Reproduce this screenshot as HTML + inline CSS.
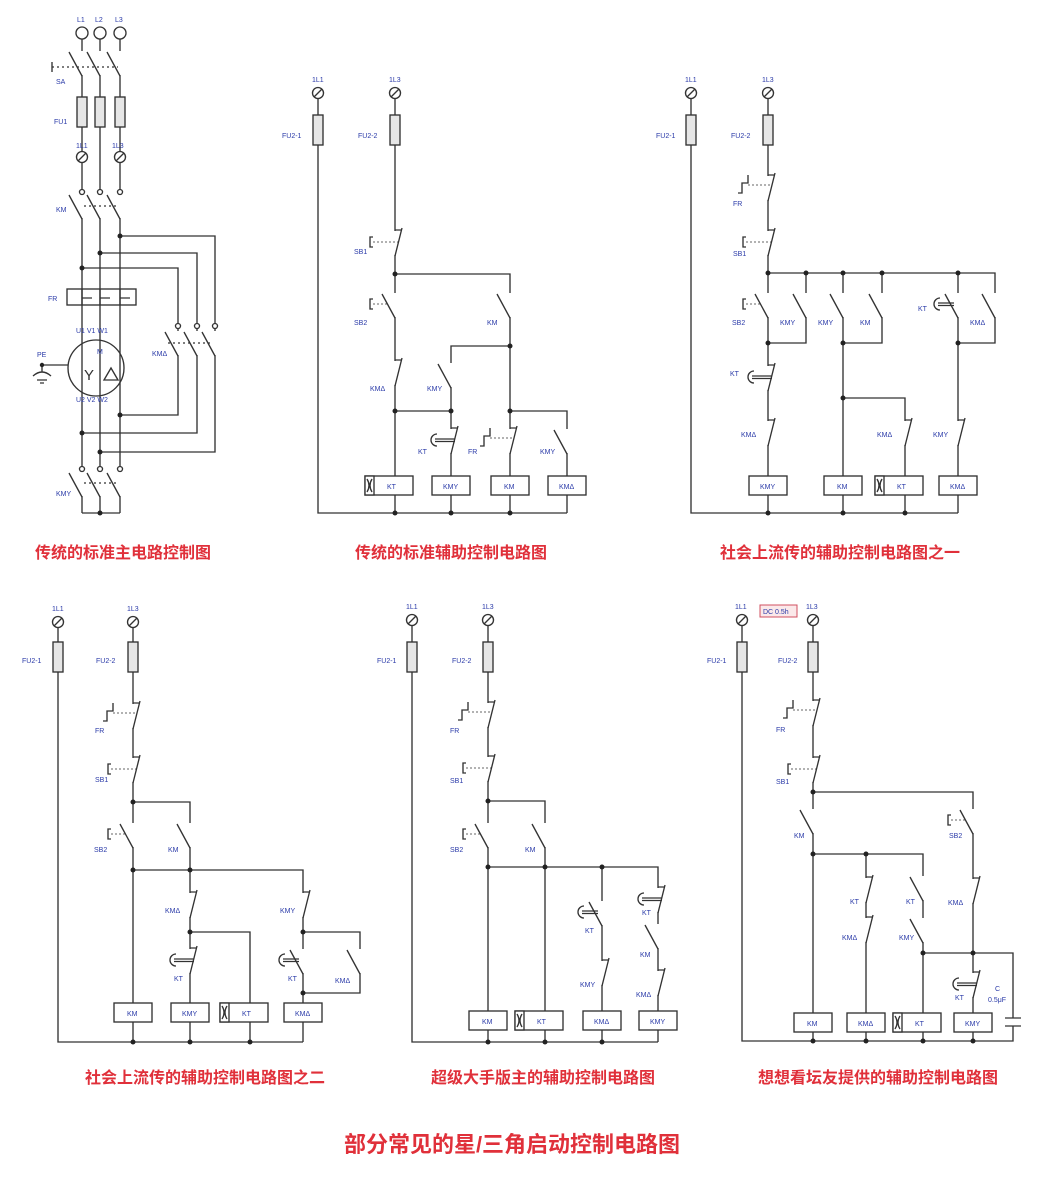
<!DOCTYPE html>
<html><head><meta charset="utf-8"><style>
html,body{margin:0;padding:0;background:#fff}
svg{display:block}
.w{fill:none;stroke:#333;stroke-width:1.35}
.l{font-family:"Liberation Sans",sans-serif;font-size:7px;fill:#2a3aa8}
.c{font-family:"Liberation Sans","Noto Sans CJK SC",sans-serif;font-weight:bold;fill:#e0303a;text-anchor:middle}
</style></head><body>
<svg width="1044" height="1178" viewBox="0 0 1044 1178" xmlns="http://www.w3.org/2000/svg">
<defs>
<g id="no" class="w"><rect x="-2" y="1" width="4" height="24" fill="#fff" stroke="none"/><path d="M-13,2 L0,26"/></g>
<g id="nc" class="w"><rect x="-2" y="1" width="4" height="24" fill="#fff" stroke="none"/><path d="M0,0 H6 M0,26 L7,-2"/></g>
<g id="pb" class="w"><path d="M-22,7 h-3 v10 h3"/><path d="M-22,12 H-6" stroke-dasharray="2,2" stroke-width="0.8"/></g>
<g id="pbc" class="w"><path d="M-22,7 h-3 v10 h3"/><path d="M-22,12 H3" stroke-dasharray="2,2" stroke-width="0.8"/></g>
<g id="th" class="w"><path d="M-20,0 v8 h-6 v10 h-4"/><path d="M-20,10 H3" stroke-dasharray="2,2" stroke-width="0.8"/></g>
<g id="tm" class="w"><path d="M-18,6 a6,6 0 0 0 0,12"/><path d="M-20,11 H-4 M-20,13.5 H-4"/></g>
<g id="tmc" class="w"><path d="M-14,6 a6,6 0 0 0 0,12"/><path d="M-16,11 H4 M-16,13.5 H4"/></g>
<g id="coil" class="w"><rect x="-19" y="0" width="38" height="19" fill="#fff"/></g>
<g id="kt" class="w"><rect x="-30" y="0" width="48" height="19" fill="#fff"/><rect x="-30" y="0" width="9" height="19" fill="#fff"/><path d="M-28,3 q4,6.5 0,13 M-23,3 q-4,6.5 0,13"/></g>
<g id="fu" class="w"><rect x="-5" y="0" width="10" height="30" fill="#e6e6e6"/></g>
<g id="tr" class="w"><circle cx="0" cy="0" r="5.5" fill="#fff"/><path d="M-4,4 L4,-4"/></g>
<g id="to" class="w"><circle cx="0" cy="0" r="6" fill="#fff"/></g>
</defs>

<!-- Diagram 1 -->
<path class="w" d="M82,39 V513 M100,39 V513 M120,39 V513 M82,513 H120"/>
<path class="w" d="M120,236 H215 V452 H100 M100,253 H197 V433 H82 M82,268 H178 V415 H120"/>
<use href="#to" x="82" y="33"/><use href="#to" x="100" y="33"/><use href="#to" x="120" y="33"/>
<text class="l" x="77" y="22">L1</text><text class="l" x="95" y="22">L2</text><text class="l" x="115" y="22">L3</text>
<use href="#no" x="82" y="50"/><use href="#no" x="100" y="50"/><use href="#no" x="120" y="50"/>
<path class="w" d="M52,62 V72"/><path class="w" d="M52,67 H118" stroke-dasharray="2,3" stroke-width="0.8"/>
<text class="l" x="56" y="84">SA</text>
<use href="#fu" x="82" y="97"/><use href="#fu" x="100" y="97"/><use href="#fu" x="120" y="97"/>
<text class="l" x="54" y="124">FU1</text>
<use href="#tr" x="82" y="157"/><use href="#tr" x="120" y="157"/>
<text class="l" x="76" y="148">1L1</text><text class="l" x="112" y="148">1L3</text>
<use href="#no" x="82" y="193"/><use href="#no" x="100" y="193"/><use href="#no" x="120" y="193"/>
<g class="w"><circle cx="82" cy="192" r="2.5" fill="#fff"/><circle cx="100" cy="192" r="2.5" fill="#fff"/><circle cx="120" cy="192" r="2.5" fill="#fff"/></g>
<path class="w" d="M84,206 H118" stroke-dasharray="2,3" stroke-width="0.8"/>
<text class="l" x="56" y="212">KM</text>
<rect class="w" x="67" y="289" width="69" height="16" fill="#fff"/>
<path class="w" d="M82,289 V298 H92 M100,289 V298 H110 M120,289 V298 H130 M82,305 V298 M100,305 V298 M120,305 V298"/>
<text class="l" x="48" y="301">FR</text>
<text class="l" x="76" y="333">U1 V1 W1</text>
<path class="w" d="M68,365 H42 M42,365 V372 M33,376 q9,-8 18,0 M37,380 H47 M40,383 H44"/>
<circle cx="42" cy="365" r="2.2" fill="#222"/>
<text class="l" x="37" y="357">PE</text>
<circle class="w" cx="96" cy="368" r="28" fill="#fff"/>
<text class="l" x="97" y="354">M</text>
<text x="84" y="380" font-family="Liberation Sans" font-size="15" fill="#333">Y</text>
<path class="w" d="M104,380 L111,368 L118,380 Z"/>
<text class="l" x="76" y="402">U2 V2 W2</text>
<use href="#no" x="178" y="330"/><use href="#no" x="197" y="330"/><use href="#no" x="215" y="330"/>
<g class="w"><circle cx="178" cy="326" r="2.5" fill="#fff"/><circle cx="197" cy="326" r="2.5" fill="#fff"/><circle cx="215" cy="326" r="2.5" fill="#fff"/></g>
<path class="w" d="M168,343 H212" stroke-dasharray="2,3" stroke-width="0.8"/>
<text class="l" x="152" y="356">KMΔ</text>
<use href="#no" x="82" y="471"/><use href="#no" x="100" y="471"/><use href="#no" x="120" y="471"/>
<g class="w"><circle cx="82" cy="469" r="2.5" fill="#fff"/><circle cx="100" cy="469" r="2.5" fill="#fff"/><circle cx="120" cy="469" r="2.5" fill="#fff"/></g>
<path class="w" d="M84,483 H118" stroke-dasharray="2,3" stroke-width="0.8"/>
<text class="l" x="56" y="496">KMY</text>
<g fill="#222"><circle cx="120" cy="236" r="2.5"/><circle cx="100" cy="253" r="2.5"/><circle cx="82" cy="268" r="2.5"/><circle cx="120" cy="415" r="2.5"/><circle cx="82" cy="433" r="2.5"/><circle cx="100" cy="452" r="2.5"/><circle cx="100" cy="513" r="2.5"/></g>

<!-- Diagram 2 -->
<path class="w" d="M318,99 V513 H567 M395,99 V513 M395,274 H510 V513 M510,346 H451 V513 M395,411 H451 M510,411 H567 V513"/>
<use href="#tr" x="318" y="93"/><use href="#tr" x="395" y="93"/>
<text class="l" x="312" y="82">1L1</text><text class="l" x="389" y="82">1L3</text>
<use href="#fu" x="318" y="115"/><use href="#fu" x="395" y="115"/>
<text class="l" x="282" y="138">FU2-1</text><text class="l" x="358" y="138">FU2-2</text>
<use href="#nc" x="395" y="230"/><use href="#pbc" x="395" y="230"/><text class="l" x="354" y="254">SB1</text>
<use href="#no" x="395" y="292"/><use href="#pb" x="395" y="292"/><text class="l" x="354" y="325">SB2</text>
<use href="#no" x="510" y="292"/><text class="l" x="487" y="325">KM</text>
<use href="#nc" x="395" y="360"/><text class="l" x="370" y="391">KMΔ</text>
<use href="#no" x="451" y="362"/><text class="l" x="427" y="391">KMY</text>
<use href="#nc" x="451" y="428"/><use href="#tmc" x="451" y="428"/><text class="l" x="418" y="454">KT</text>
<use href="#nc" x="510" y="428"/><use href="#th" x="510" y="428"/><text class="l" x="468" y="454">FR</text>
<use href="#no" x="567" y="428"/><text class="l" x="540" y="454">KMY</text>
<use href="#kt" x="395" y="476"/><text class="l" x="387" y="489">KT</text>
<use href="#coil" x="451" y="476"/><text class="l" x="443" y="489">KMY</text>
<use href="#coil" x="510" y="476"/><text class="l" x="504" y="489">KM</text>
<use href="#coil" x="567" y="476"/><text class="l" x="559" y="489">KMΔ</text>
<g fill="#222"><circle cx="395" cy="274" r="2.5"/><circle cx="510" cy="346" r="2.5"/><circle cx="395" cy="411" r="2.5"/><circle cx="451" cy="411" r="2.5"/><circle cx="510" cy="411" r="2.5"/><circle cx="395" cy="513" r="2.5"/><circle cx="451" cy="513" r="2.5"/><circle cx="510" cy="513" r="2.5"/></g>

<!-- Diagram 3 -->
<path class="w" d="M691,99 V513 H958 M768,99 V513 M768,273 H995 V343 H958 M958,273 V513 M806,273 V343 H768 M843,273 V513 M882,273 V343 H843 M843,398 H905 V513"/>
<use href="#tr" x="691" y="93"/><use href="#tr" x="768" y="93"/>
<text class="l" x="685" y="82">1L1</text><text class="l" x="762" y="82">1L3</text>
<use href="#fu" x="691" y="115"/><use href="#fu" x="768" y="115"/>
<text class="l" x="656" y="138">FU2-1</text><text class="l" x="731" y="138">FU2-2</text>
<use href="#nc" x="768" y="175"/><use href="#th" x="768" y="175"/><text class="l" x="733" y="206">FR</text>
<use href="#nc" x="768" y="230"/><use href="#pbc" x="768" y="230"/><text class="l" x="733" y="256">SB1</text>
<use href="#no" x="768" y="292"/><use href="#pb" x="768" y="292"/><text class="l" x="732" y="325">SB2</text>
<use href="#no" x="806" y="292"/><text class="l" x="780" y="325">KMY</text>
<use href="#no" x="843" y="292"/><text class="l" x="818" y="325">KMY</text>
<use href="#no" x="882" y="292"/><text class="l" x="860" y="325">KM</text>
<use href="#no" x="958" y="292"/><use href="#tm" x="958" y="292"/><text class="l" x="918" y="311">KT</text>
<use href="#no" x="995" y="292"/><text class="l" x="970" y="325">KMΔ</text>
<use href="#nc" x="768" y="365"/><use href="#tmc" x="768" y="365"/><text class="l" x="730" y="376">KT</text>
<use href="#nc" x="768" y="420"/><text class="l" x="741" y="437">KMΔ</text>
<use href="#nc" x="905" y="420"/><text class="l" x="877" y="437">KMΔ</text>
<use href="#nc" x="958" y="420"/><text class="l" x="933" y="437">KMY</text>
<use href="#coil" x="768" y="476"/><text class="l" x="760" y="489">KMY</text>
<use href="#coil" x="843" y="476"/><text class="l" x="837" y="489">KM</text>
<use href="#kt" x="905" y="476"/><text class="l" x="897" y="489">KT</text>
<use href="#coil" x="958" y="476"/><text class="l" x="950" y="489">KMΔ</text>
<g fill="#222"><circle cx="768" cy="273" r="2.5"/><circle cx="806" cy="273" r="2.5"/><circle cx="843" cy="273" r="2.5"/><circle cx="882" cy="273" r="2.5"/><circle cx="958" cy="273" r="2.5"/><circle cx="768" cy="343" r="2.5"/><circle cx="843" cy="343" r="2.5"/><circle cx="958" cy="343" r="2.5"/><circle cx="843" cy="398" r="2.5"/><circle cx="768" cy="513" r="2.5"/><circle cx="843" cy="513" r="2.5"/><circle cx="905" cy="513" r="2.5"/></g>

<!-- Diagram 4 -->
<path class="w" d="M58,628 V1042 H303 M133,628 V1042 M133,802 H190 V1042 M133,870 H303 V1042 M190,932 H250 V1042 M303,932 H360 V993 H303"/>
<use href="#tr" x="58" y="622"/><use href="#tr" x="133" y="622"/>
<text class="l" x="52" y="611">1L1</text><text class="l" x="127" y="611">1L3</text>
<use href="#fu" x="58" y="642"/><use href="#fu" x="133" y="642"/>
<text class="l" x="22" y="663">FU2-1</text><text class="l" x="96" y="663">FU2-2</text>
<use href="#nc" x="133" y="703"/><use href="#th" x="133" y="703"/><text class="l" x="95" y="733">FR</text>
<use href="#nc" x="133" y="757"/><use href="#pbc" x="133" y="757"/><text class="l" x="95" y="782">SB1</text>
<use href="#no" x="133" y="822"/><use href="#pb" x="133" y="822"/><text class="l" x="94" y="852">SB2</text>
<use href="#no" x="190" y="822"/><text class="l" x="168" y="852">KM</text>
<use href="#nc" x="190" y="892"/><text class="l" x="165" y="913">KMΔ</text>
<use href="#nc" x="190" y="948"/><use href="#tmc" x="190" y="948"/><text class="l" x="174" y="981">KT</text>
<use href="#nc" x="303" y="892"/><text class="l" x="280" y="913">KMY</text>
<use href="#no" x="303" y="948"/><use href="#tm" x="303" y="948"/><text class="l" x="288" y="981">KT</text>
<use href="#no" x="360" y="948"/><text class="l" x="335" y="983">KMΔ</text>
<use href="#coil" x="133" y="1003"/><text class="l" x="127" y="1016">KM</text>
<use href="#coil" x="190" y="1003"/><text class="l" x="182" y="1016">KMY</text>
<use href="#kt" x="250" y="1003"/><text class="l" x="242" y="1016">KT</text>
<use href="#coil" x="303" y="1003"/><text class="l" x="295" y="1016">KMΔ</text>
<g fill="#222"><circle cx="133" cy="802" r="2.5"/><circle cx="133" cy="870" r="2.5"/><circle cx="190" cy="870" r="2.5"/><circle cx="190" cy="932" r="2.5"/><circle cx="303" cy="932" r="2.5"/><circle cx="303" cy="993" r="2.5"/><circle cx="133" cy="1042" r="2.5"/><circle cx="190" cy="1042" r="2.5"/><circle cx="250" cy="1042" r="2.5"/></g>

<!-- Diagram 5 -->
<path class="w" d="M412,626 V1042 H658 M488,626 V1042 M488,801 H545 V1042 M488,867 H658 V1042 M602,867 V1042"/>
<use href="#tr" x="412" y="620"/><use href="#tr" x="488" y="620"/>
<text class="l" x="406" y="609">1L1</text><text class="l" x="482" y="609">1L3</text>
<use href="#fu" x="412" y="642"/><use href="#fu" x="488" y="642"/>
<text class="l" x="377" y="663">FU2-1</text><text class="l" x="452" y="663">FU2-2</text>
<use href="#nc" x="488" y="702"/><use href="#th" x="488" y="702"/><text class="l" x="450" y="733">FR</text>
<use href="#nc" x="488" y="756"/><use href="#pbc" x="488" y="756"/><text class="l" x="450" y="783">SB1</text>
<use href="#no" x="488" y="822"/><use href="#pb" x="488" y="822"/><text class="l" x="450" y="852">SB2</text>
<use href="#no" x="545" y="822"/><text class="l" x="525" y="852">KM</text>
<use href="#no" x="602" y="900"/><use href="#tm" x="602" y="900"/><text class="l" x="585" y="933">KT</text>
<use href="#nc" x="602" y="960"/><text class="l" x="580" y="987">KMY</text>
<use href="#nc" x="658" y="887"/><use href="#tmc" x="658" y="887"/><text class="l" x="642" y="915">KT</text>
<use href="#no" x="658" y="923"/><text class="l" x="640" y="957">KM</text>
<use href="#nc" x="658" y="970"/><text class="l" x="636" y="997">KMΔ</text>
<use href="#coil" x="488" y="1011"/><text class="l" x="482" y="1024">KM</text>
<use href="#kt" x="545" y="1011"/><text class="l" x="537" y="1024">KT</text>
<use href="#coil" x="602" y="1011"/><text class="l" x="594" y="1024">KMΔ</text>
<use href="#coil" x="658" y="1011"/><text class="l" x="650" y="1024">KMY</text>
<g fill="#222"><circle cx="488" cy="801" r="2.5"/><circle cx="488" cy="867" r="2.5"/><circle cx="545" cy="867" r="2.5"/><circle cx="602" cy="867" r="2.5"/><circle cx="488" cy="1042" r="2.5"/><circle cx="545" cy="1042" r="2.5"/><circle cx="602" cy="1042" r="2.5"/></g>

<!-- Diagram 6 -->
<path class="w" d="M742,626 V1041 H1013 V1026 M1013,1018 V953 H923 M813,626 V1041 M813,792 H973 V1041 M813,854 H923 V1041 M866,854 V1041 M1005,1018 h16 M1005,1026 h16"/>
<use href="#tr" x="742" y="620"/><use href="#tr" x="813" y="620"/>
<text class="l" x="735" y="609">1L1</text><text class="l" x="806" y="609">1L3</text>
<rect x="760" y="605" width="37" height="12" fill="#fbe9ea" stroke="#d05060" stroke-width="1"/>
<text class="l" x="763" y="614" fill="#c03040">DC 0.5h</text>
<use href="#fu" x="742" y="642"/><use href="#fu" x="813" y="642"/>
<text class="l" x="707" y="663">FU2-1</text><text class="l" x="778" y="663">FU2-2</text>
<use href="#nc" x="813" y="700"/><use href="#th" x="813" y="700"/><text class="l" x="776" y="732">FR</text>
<use href="#nc" x="813" y="757"/><use href="#pbc" x="813" y="757"/><text class="l" x="776" y="784">SB1</text>
<use href="#no" x="813" y="808"/><text class="l" x="794" y="838">KM</text>
<use href="#no" x="973" y="808"/><use href="#pb" x="973" y="808"/><text class="l" x="949" y="838">SB2</text>
<use href="#nc" x="866" y="877"/><text class="l" x="850" y="904">KT</text>
<use href="#nc" x="866" y="917"/><text class="l" x="842" y="940">KMΔ</text>
<use href="#no" x="923" y="875"/><text class="l" x="906" y="904">KT</text>
<use href="#no" x="923" y="917"/><text class="l" x="899" y="940">KMY</text>
<use href="#nc" x="973" y="878"/><text class="l" x="948" y="905">KMΔ</text>
<use href="#nc" x="973" y="972"/><use href="#tmc" x="973" y="972"/><text class="l" x="955" y="1000">KT</text>
<text class="l" x="995" y="991">C</text><text class="l" x="988" y="1002">0.5μF</text>
<use href="#coil" x="813" y="1013"/><text class="l" x="807" y="1026">KM</text>
<use href="#coil" x="866" y="1013"/><text class="l" x="858" y="1026">KMΔ</text>
<use href="#kt" x="923" y="1013"/><text class="l" x="915" y="1026">KT</text>
<use href="#coil" x="973" y="1013"/><text class="l" x="965" y="1026">KMY</text>
<g fill="#222"><circle cx="813" cy="792" r="2.5"/><circle cx="813" cy="854" r="2.5"/><circle cx="866" cy="854" r="2.5"/><circle cx="923" cy="953" r="2.5"/><circle cx="973" cy="953" r="2.5"/><circle cx="813" cy="1041" r="2.5"/><circle cx="866" cy="1041" r="2.5"/><circle cx="923" cy="1041" r="2.5"/><circle cx="973" cy="1041" r="2.5"/></g>

<!-- Captions -->
<text class="c" x="123" y="558" font-size="16">传统的标准主电路控制图</text>
<text class="c" x="451" y="558" font-size="16">传统的标准辅助控制电路图</text>
<text class="c" x="840" y="558" font-size="16">社会上流传的辅助控制电路图之一</text>
<text class="c" x="205" y="1083" font-size="16">社会上流传的辅助控制电路图之二</text>
<text class="c" x="543" y="1083" font-size="16">超级大手版主的辅助控制电路图</text>
<text class="c" x="878" y="1083" font-size="16">想想看坛友提供的辅助控制电路图</text>
<text class="c" x="512" y="1152" font-size="22">部分常见的星/三角启动控制电路图</text>
</svg>
</body></html>
